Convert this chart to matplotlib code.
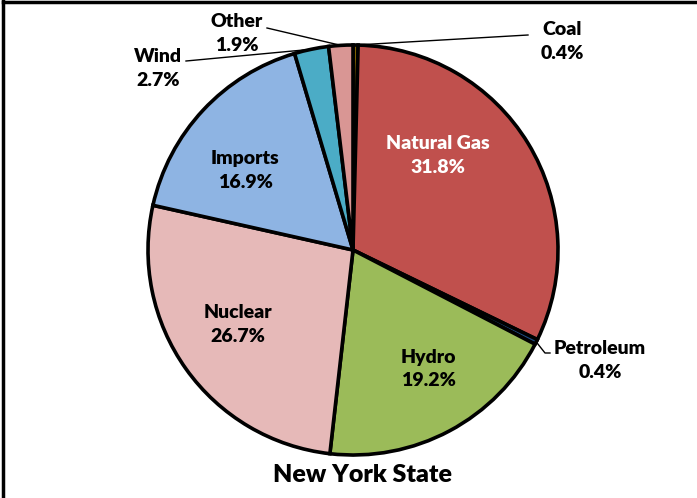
import numpy as np
import matplotlib.pyplot as plt
from matplotlib.lines import Line2D

# Data (clockwise from 12 o'clock)
sources = ['Coal', 'Natural Gas', 'Petroleum', 'Hydro', 'Nuclear', 'Imports', 'Wind', 'Other']
shares = [0.4, 31.8, 0.4, 19.2, 26.7, 16.9, 2.7, 1.9]
colors = ['#7F6000', '#C0504D', '#1F497D', '#9BBB59', '#E6B9B8', '#8EB4E3', '#4BACC6', '#D99694']
title = 'New York State'

W, H = 697, 498
cx, cy, rad = 353, 250, 205   # pie centre and radius in pixels

fig = plt.figure(figsize=(W / 100, H / 100), dpi=100)
ax = fig.add_axes([(cx - rad) / W, (H - cy - rad) / H, 2 * rad / W, 2 * rad / H])

wedges, _ = ax.pie(shares, colors=colors, startangle=90, counterclock=False,
                   wedgeprops=dict(edgecolor='black', linewidth=2.6))
ax.set_xlim(-1, 1)
ax.set_ylim(-1, 1)
ax.axis('off')

def px(x, y):
    # pixel position -> data coords of the pie axes
    return (x - cx) / rad, (cy - y) / rad

font = dict(family=['Lato', 'DejaVu Sans'], fontweight=800, fontsize=14)

# label placement (pixels): text centre, leader end (None = inside label)
layout = {
    'Coal':        ((562, 41), (528, 35)),
    'Natural Gas': ((438, 155), None),
    'Petroleum':   ((600, 361), (550, 353)),
    'Hydro':       ((428, 369), None),
    'Nuclear':     ((238, 325), None),
    'Imports':     ((245, 170), None),
    'Wind':        ((158, 68), (186, 61)),
    'Other':       ((237, 33), (267, 28)),
}

for w, name, val in zip(wedges, sources, shares):
    (tx, ty), lead = layout[name]
    col = 'white' if name == 'Natural Gas' else 'black'
    ax.text(*px(tx, ty), f'{name}\n{val:.1f}%', ha='center', va='center',
            color=col, linespacing=1.5, clip_on=False, **font)
    if lead is not None:
        mid = np.deg2rad((w.theta1 + w.theta2) / 2)
        x0, y0 = np.cos(mid), np.sin(mid)
        lx, ly = px(*lead)
        pts_x, pts_y = [x0, lx], [y0, ly]
        if name == 'Petroleum':
            kx, ky = px(545, 353)
            pts_x, pts_y = [x0, kx, lx], [y0, ky, ly]
        ax.plot(pts_x, pts_y, color='black', lw=1.0, clip_on=False)

fig.text(363 / W, 1 - 475 / H, title, ha='center', va='center',
         family=['Lato', 'DejaVu Sans'], fontweight=800, fontsize=18)

# partial frame visible in the reference (top and left edges)
fig.add_artist(Line2D([3 / W, 1], [1 - 2.5 / H, 1 - 2.5 / H], color='black', lw=2.5))
fig.add_artist(Line2D([3.5 / W, 3.5 / W], [0, 1 - 1 / H], color='black', lw=2.5))

fig.savefig('out.png', dpi=100)
